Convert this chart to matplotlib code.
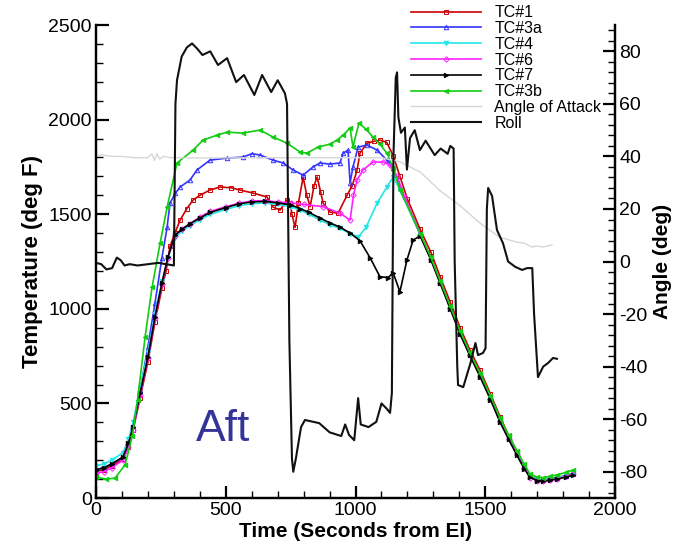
import matplotlib

matplotlib.use("Agg")
import matplotlib.pyplot as plt  # noqa: E402
from matplotlib.ticker import MultipleLocator  # noqa: E402

plt.rcParams["font.family"] = ["Liberation Sans", "DejaVu Sans"]
plt.rcParams["axes.unicode_minus"] = False

# 温度曲线 (Time s, deg F)
t_tc1 = [0, 30, 60, 104, 125, 143, 170, 200, 227, 254, 270, 285, 304, 324, 350, 374, 400, 439, 478, 520,
         555, 605, 659, 682, 709, 736, 748, 755, 767, 780, 798, 812, 825, 840, 852, 865, 875, 902, 933, 967,
         987, 1006, 1017, 1044, 1070, 1094, 1120, 1145, 1171, 1200, 1249, 1290, 1326, 1365, 1403, 1440,
         1480, 1520, 1557, 1590, 1622, 1650, 1672, 1700, 1723, 1750, 1776, 1810, 1838]
T_tc1 = [140, 150, 170, 205, 270, 360, 530, 720, 930, 1110, 1200, 1330, 1400, 1469, 1530, 1575, 1600, 1628,
         1644, 1640, 1628, 1612, 1591, 1538, 1522, 1575, 1560, 1500, 1430, 1560, 1697, 1600, 1540, 1650,
         1697, 1620, 1559, 1511, 1506, 1600, 1650, 1733, 1823, 1876, 1885, 1892, 1880, 1810, 1700, 1580,
         1420, 1300, 1170, 1035, 900, 785, 675, 550, 430, 330, 245, 165, 115, 98, 95, 100, 108, 118, 128]

t_tc3a = [0, 30, 60, 104, 125, 143, 170, 200, 227, 254, 274, 285, 305, 324, 362, 389, 439, 505, 566, 600,
          632, 682, 721, 759, 798, 836, 863, 900, 940, 952, 971, 979, 990, 1010, 1044, 1083, 1121, 1145,
          1171, 1249, 1290, 1326, 1365, 1403, 1440, 1480, 1520, 1557, 1590, 1622, 1650, 1672, 1700, 1723,
          1750, 1776, 1810, 1838]
T_tc3a = [150, 160, 180, 215, 285, 380, 570, 800, 1030, 1270, 1432, 1559, 1610, 1644, 1681, 1734, 1786,
          1797, 1802, 1820, 1813, 1786, 1771, 1734, 1707, 1750, 1771, 1765, 1771, 1823, 1839, 1665, 1750,
          1855, 1866, 1839, 1786, 1744, 1640, 1395, 1268, 1142, 1008, 875, 762, 652, 532, 414, 322, 240,
          166, 114, 97, 94, 100, 106, 118, 132]

t_tc4 = [0, 30, 60, 104, 125, 143, 170, 200, 227, 254, 277, 304, 330, 362, 400, 440, 500, 550, 600, 650,
         700, 750, 786, 820, 863, 900, 940, 980, 1010, 1040, 1083, 1121, 1145, 1171, 1249, 1290, 1326, 1365,
         1403, 1440, 1480, 1520, 1557, 1590, 1622, 1650, 1672, 1700, 1723, 1750, 1776, 1810, 1838]
T_tc4 = [170, 180, 200, 240, 310, 400, 580, 770, 975, 1145, 1270, 1375, 1410, 1440, 1470, 1500, 1525, 1545,
         1555, 1560, 1552, 1540, 1522, 1500, 1470, 1445, 1425, 1398, 1378, 1430, 1559, 1644, 1697, 1630,
         1392, 1266, 1141, 1006, 873, 760, 650, 530, 412, 320, 238, 165, 115, 98, 95, 100, 106, 118, 132]

t_tc6 = [0, 30, 60, 104, 125, 143, 170, 200, 227, 254, 277, 304, 330, 362, 400, 440, 500, 550, 600, 650,
         700, 750, 800, 875, 940, 979, 992, 1006, 1029, 1067, 1106, 1133, 1160, 1190, 1249, 1290, 1326,
         1365, 1403, 1440, 1480, 1520, 1557, 1590, 1622, 1650, 1672, 1700, 1723, 1750, 1776, 1810, 1838]
T_tc6 = [130, 140, 160, 200, 270, 360, 545, 740, 950, 1130, 1270, 1385, 1420, 1450, 1485, 1515, 1540, 1558,
         1570, 1572, 1565, 1560, 1552, 1540, 1506, 1469, 1600, 1681, 1734, 1776, 1776, 1760, 1700, 1590,
         1392, 1264, 1138, 1002, 868, 756, 645, 525, 405, 314, 232, 160, 108, 92, 90, 96, 102, 114, 126]

t_tc7 = [0, 30, 60, 104, 125, 143, 170, 200, 227, 254, 277, 304, 330, 362, 400, 440, 500, 550, 600, 650,
         700, 750, 786, 820, 863, 900, 940, 980, 1017, 1056, 1094, 1125, 1145, 1171, 1198, 1222, 1249, 1290,
         1326, 1365, 1403, 1440, 1480, 1520, 1557, 1590, 1622, 1650, 1672, 1700, 1723, 1750, 1776, 1810, 1838]
T_tc7 = [150, 160, 180, 217, 290, 375, 555, 745, 957, 1136, 1274, 1390, 1420, 1450, 1480, 1510, 1535, 1555,
         1565, 1568, 1560, 1550, 1530, 1510, 1480, 1455, 1432, 1400, 1360, 1270, 1170, 1165, 1190, 1090,
         1258, 1364, 1385, 1260, 1135, 1000, 865, 755, 640, 520, 400, 310, 225, 155, 110, 92, 88, 95, 100,
         110, 120]

t_tc3b = [0, 40, 73, 112, 140, 160, 189, 216, 247, 274, 312, 374, 412, 466, 505, 566, 632, 682, 736, 786,
          813, 855, 900, 929, 952, 979, 990, 1013, 1040, 1067, 1094, 1121, 1145, 1171, 1249, 1290, 1326,
          1365, 1403, 1440, 1480, 1520, 1557, 1590, 1622, 1650, 1672, 1700, 1723, 1750, 1776, 1810, 1838]
T_tc3b = [110, 100, 105, 175, 330, 520, 851, 1115, 1348, 1538, 1771, 1839, 1892, 1918, 1934, 1929, 1945,
          1908, 1876, 1829, 1823, 1855, 1870, 1892, 1918, 1956, 1855, 1982, 1950, 1908, 1870, 1823, 1744,
          1628, 1398, 1272, 1148, 1014, 882, 770, 660, 540, 422, 332, 250, 178, 128, 110, 108, 115, 122,
          135, 148]

# 角度 (deg)
t_aoa = [0, 30, 60, 100, 150, 200, 215, 225, 235, 245, 260, 290, 400, 600, 800, 1000, 1100, 1170, 1250,
         1325, 1400, 1480, 1555, 1620, 1650, 1680, 1700, 1720, 1757]
a_aoa = [40.5, 40.5, 40, 40, 39.5, 39.5, 41, 38.5, 41, 39, 40, 39.5, 39.4, 39.5, 39.5, 39.5, 39.5, 38, 34,
         27, 21.5, 14.6, 9.3, 7.4, 7, 5.5, 6, 5.5, 6.3]

t_roll = [0, 20, 40, 62, 80, 95, 110, 130, 160, 200, 240, 270, 300, 306, 312, 330, 350, 370, 390, 410,
          440, 470, 505, 540, 570, 610, 640, 675, 700, 728, 736, 745, 755, 760, 770, 790, 805, 860, 900,
          945, 960, 975, 995, 1010, 1020, 1050, 1080, 1100, 1120, 1133, 1140, 1146, 1155, 1160, 1165,
          1175, 1190, 1198, 1210, 1228, 1248, 1270, 1305, 1328, 1355, 1365, 1378, 1382, 1392, 1395, 1415,
          1443, 1462, 1472, 1491, 1501, 1506, 1511, 1526, 1545, 1568, 1588, 1615, 1642, 1661, 1681, 1688,
          1703, 1723, 1742, 1761, 1776]
a_roll = [-0.5, -1, -3, -2.5, 1.5, 0.5, -1.5, -1, -1.5, -1, -0.5, -1, -1.5, 60, 69, 78, 81.5, 83, 81,
          78.6, 80, 74.8, 77.4, 68.3, 71, 63.4, 71, 64.5, 69, 64, 60, -30, -75, -80, -75, -63, -60.3, -61.5,
          -65, -66.4, -62, -66, -68, -52, -62, -63, -61, -54, -56, -57.6, -50, 40, 70, 72, 55, 49, 51, 35,
          47, 50, 42.4, 46, 40.5, 43, 41, 44, 43, 0, -40, -47, -47.8, -38.6, -31, -35.6, -34.8, -33, 20,
          28, 25, 12, 7, 0, -2, -3.2, -2.5, -2.5, -20, -44, -40, -38.6, -36.7, -37]

fig = plt.figure(figsize=(6.84, 5.45), dpi=100)
ax = fig.add_axes([0.1404, 0.0862, 0.7588, 0.8678])
ax2 = ax.twinx()

lw = 1.2
series = [
    (t_tc1, T_tc1, "TC#1", "#cc0000", "s", "none"),
    (t_tc3a, T_tc3a, "TC#3a", "#3333ff", "^", "none"),
    (t_tc4, T_tc4, "TC#4", "#22e6e6", "v", "#22e6e6"),
    (t_tc6, T_tc6, "TC#6", "#ff22ff", "D", "none"),
    (t_tc7, T_tc7, "TC#7", "#000000", ">", "#000000"),
    (t_tc3b, T_tc3b, "TC#3b", "#11cc11", "<", "#11cc11"),
]
handles = []
for tt, vv, name, c, m, fc in series:
    h, = ax.plot(tt, vv, color=c, lw=lw, marker=m, ms=3.2 if m != "D" else 2.8,
                 mfc=fc, mec=c, mew=0.7, label=name)
    handles.append(h)

h, = ax2.plot(t_aoa, a_aoa, color="#d6d6d6", lw=1.0, label="Angle of Attack")
handles.append(h)
h, = ax2.plot(t_roll, a_roll, color="#111111", lw=1.5, label="Roll")
handles.append(h)

ax.set_xlim(0, 2000)
ax.set_ylim(0, 2500)
ax2.set_ylim(-90, 90)

ax.xaxis.set_major_locator(MultipleLocator(500))
ax.xaxis.set_minor_locator(MultipleLocator(100))
ax.yaxis.set_major_locator(MultipleLocator(500))
ax.yaxis.set_minor_locator(MultipleLocator(100))
ax2.yaxis.set_major_locator(MultipleLocator(20))
ax2.yaxis.set_minor_locator(MultipleLocator(4))

for a in (ax, ax2):
    a.spines["top"].set_visible(False)
    for s in a.spines.values():
        s.set_linewidth(1.6)
    a.tick_params(which="major", direction="in", length=9, width=1.6, labelsize=14)
    a.tick_params(which="minor", direction="in", length=5, width=1.0)
ax.tick_params(axis="x", pad=3)
ax.tick_params(axis="y", pad=3)
ax2.tick_params(axis="y", pad=3)

ax.set_xlabel("Time (Seconds from EI)", fontsize=15, fontweight="bold", labelpad=2)
ax.set_ylabel("Temperature (deg F)", fontsize=16, fontweight="bold", labelpad=4)
ax2.set_ylabel("Angle (deg)", fontsize=15, fontweight="bold", labelpad=4)

ax.text(489, 360, "Aft", fontsize=32, color="#333399", ha="center", va="center")

fig.legend(handles=handles, loc="upper left", bbox_to_anchor=(408 / 684, 1 - 2 / 545),
           frameon=False, fontsize=11.5, handlelength=4.4, handletextpad=0.8,
           labelspacing=0.05, borderaxespad=0, borderpad=0.2, numpoints=1)

fig.savefig("out.png", dpi=100)
